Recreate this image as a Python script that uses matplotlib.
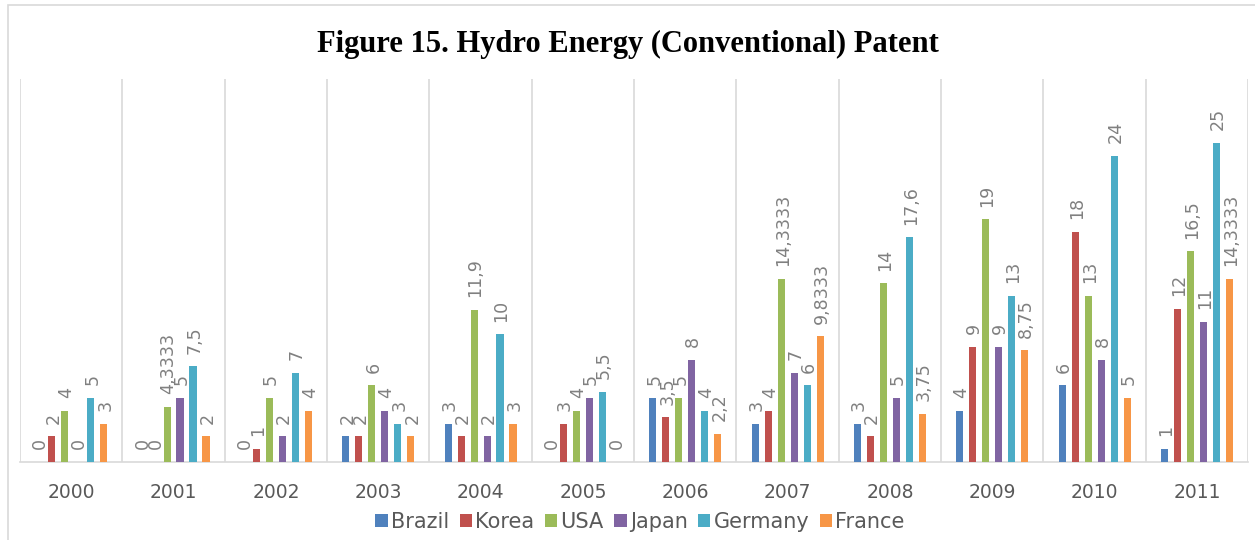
# Hydro energy (conventional) patents, grouped bars by year.

import matplotlib.pyplot as plt
import numpy as np

years = ['2000', '2001', '2002', '2003', '2004', '2005',
         '2006', '2007', '2008', '2009', '2010', '2011']

countries = ['Brazil', 'Korea', 'USA', 'Japan', 'Germany', 'France']

brazil = [0, 0, 0, 2, 3, 0, 5, 3, 3, 4, 6, 1]
korea = [2, 0, 1, 2, 2, 3, 3.5, 4, 2, 9, 18, 12]
usa = [4, 4.3333, 5, 6, 11.9, 4, 5, 14.3333, 14, 19, 13, 16.5]
japan = [0, 5, 2, 4, 2, 5, 8, 7, 5, 9, 8, 11]
germany = [5, 7.5, 7, 3, 10, 5.5, 4, 6, 17.6, 13, 24, 25]
france = [3, 2, 4, 2, 3, 0, 2.2, 9.8333, 3.75, 8.75, 5, 14.3333]

colores = ['#4F81BD', '#C0504D', '#9BBB59', '#8064A2', '#4BACC6', '#F79646']

series = [brazil, korea, usa, japan, germany, france]

fig = plt.figure(figsize=(12.55, 5.4), dpi=100)

# Marco exterior del grafico.
fig.patches.append(plt.Rectangle((0.0065, -0.01), 1.0, 1.0, transform=fig.transFigure,
                                 fill=False, edgecolor='#d9d9d9', linewidth=1.2))

ax = fig.add_axes([0.016, 0.1444, 0.9785, 0.7093])

x = np.arange(len(years))
paso = 0.127
ancho = 0.07

for i, (nombre, valores) in enumerate(zip(countries, series)):
    pos = x + (i - 2.5) * paso
    ax.bar(pos, valores, width=ancho, color=colores[i], label=nombre, zorder=3)
    for px, v in zip(pos, valores):
        texto = ('%g' % v).replace('.', ',')
        ax.text(px + 0.015, v + 1.0, texto, rotation=90, ha='center', va='bottom',
                fontsize=12.6, color='#808080')

# Lineas separadoras entre categorias.
for b in np.arange(-0.5, len(years), 1.0):
    ax.axvline(b, color='#d9d9d9', linewidth=1.2, zorder=1)

ax.set_xlim(-0.5, len(years) - 0.5)
ax.set_ylim(0, 30)
ax.set_yticks([])
ax.set_xticks(x)
ax.set_xticklabels(years, fontsize=13.5, color='#595959')
ax.tick_params(axis='x', length=0, pad=15)

for lado in ['top', 'left', 'right']:
    ax.spines[lado].set_visible(False)
ax.spines['bottom'].set_color('#d9d9d9')
ax.spines['bottom'].set_linewidth(1.2)

fig.suptitle('Figure 15. Hydro Energy (Conventional) Patent', y=0.917, va='center',
             fontsize=22, fontweight='bold', family='Liberation Serif')

fig.legend(loc='center', bbox_to_anchor=(0.51, 0.033), ncol=6, frameon=False,
           fontsize=15, labelcolor='#595959', handlelength=0.6, handleheight=0.6,
           handletextpad=0.15, columnspacing=0.5)

plt.savefig('out.png', dpi=100)
